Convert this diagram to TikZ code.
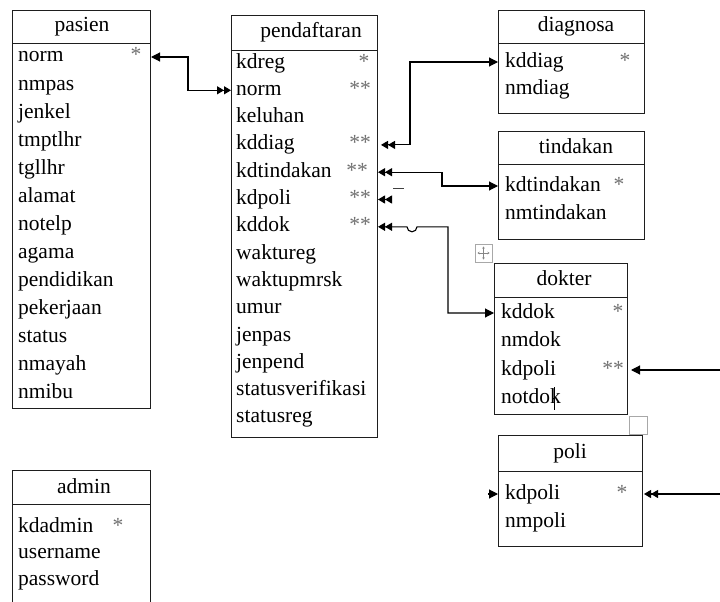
\documentclass[tikz,border=0pt]{standalone}
\usepackage{fontspec}
\setmainfont{Liberation Serif}
\usetikzlibrary{arrows.meta}
\definecolor{bord}{HTML}{1E1E1E}
\definecolor{keyc}{HTML}{707070}
\definecolor{handc}{HTML}{A8A8A8}
\begin{document}
\begin{tikzpicture}[x=1pt,y=-1pt,
  font=\fontsize{21.5}{25}\selectfont,
  tbl/.style={draw=bord, line width=1pt, inner sep=0pt, anchor=north west},
  fld/.style={anchor=west, inner sep=0pt, text height=15pt, text depth=5pt},
  ttl/.style={anchor=center, inner sep=0pt, text height=15pt, text depth=5pt},
  keyf/.style={anchor=center, inner sep=0pt, text height=15pt, text depth=5pt, text=keyc},
  conn/.style={line width=1.1pt, black},
  tipone/.tip={Triangle[length=9pt,width=9pt]},
  tiptwo/.tip={Triangle[length=7pt,width=8pt]Triangle[length=7pt,width=8pt]},
]
\useasboundingbox (0,0) rectangle (720,602);
\fill[white] (0,0) rectangle (720,602);

% ---------- pasien ----------
\node[tbl, minimum width=138pt, minimum height=33pt] (pasH) at (12,10) {};
\node[tbl, minimum width=138pt, minimum height=365pt] (pasB) at (12,43) {};
\node[ttl] (pasT) at (82,27) {pasien};
\foreach \t [count=\i from 0] in {norm,nmpas,jenkel,tmptlhr,tgllhr,alamat,notelp,agama,pendidikan,pekerjaan,status,nmayah,nmibu}
  \node[fld] (pas-\t) at (18,{57+28*\i}) {\t};
\node[keyf] (pasK1) at (136,57) {*};

% ---------- pendaftaran ----------
\node[tbl, minimum width=146pt, minimum height=35pt] (pdH) at (231,15) {};
\node[tbl, minimum width=146pt, minimum height=387pt] (pdB) at (231,50) {};
\node[ttl] (pdT) at (311,33) {pendaftaran};
\foreach \t [count=\i from 0] in {kdreg,norm,keluhan,kddiag,kdtindakan,kdpoli,kddok,waktureg,waktupmrsk,umur,jenpas,jenpend,statusverifikasi,statusreg}
  \node[fld] (pd-\t) at (236,{63+27.3*\i}) {\t};
\node[keyf] (pdK1) at (364,63) {*};
\node[keyf] (pdK2) at (360,90.3) {**};
\node[keyf] (pdK3) at (360,144.9) {**};
\node[keyf] (pdK4) at (357,172.2) {**};
\node[keyf] (pdK5) at (360,199.5) {**};
\node[keyf] (pdK6) at (360,226.8) {**};

% ---------- diagnosa ----------
\node[tbl, minimum width=146pt, minimum height=33pt] (dgH) at (498,10) {};
\node[tbl, minimum width=146pt, minimum height=70pt] (dgB) at (498,43) {};
\node[ttl] (dgT) at (576,27) {diagnosa};
\node[fld] (dg-kddiag) at (505,62) {kddiag};
\node[fld] (dg-nmdiag) at (505,90) {nmdiag};
\node[keyf] (dgK) at (625,62) {*};

% ---------- tindakan ----------
\node[tbl, minimum width=146pt, minimum height=33pt] (tdH) at (498,131) {};
\node[tbl, minimum width=146pt, minimum height=75pt] (tdB) at (498,164) {};
\node[ttl] (tdT) at (576,148) {tindakan};
\node[fld] (td-kdtindakan) at (505,186) {kdtindakan};
\node[fld] (td-nmtindakan) at (505,214) {nmtindakan};
\node[keyf] (tdK) at (619,186) {*};

% ---------- dokter ----------
\node[tbl, minimum width=133pt, minimum height=34pt] (dkH) at (494,263) {};
\node[tbl, minimum width=133pt, minimum height=117pt] (dkB) at (494,297) {};
\node[ttl] (dkT) at (564,280) {dokter};
\foreach \t [count=\i from 0] in {kddok,nmdok,kdpoli,notdok}
  \node[fld] (dk-\t) at (501,{313+28.5*\i}) {\t};
\node[keyf] (dkK1) at (618,313) {*};
\node[keyf] (dkK2) at (613,370) {**};

% ---------- poli ----------
\node[tbl, minimum width=144pt, minimum height=36pt] (poH) at (498,435) {};
\node[tbl, minimum width=144pt, minimum height=75pt] (poB) at (498,471) {};
\node[ttl] (poT) at (570,453) {poli};
\node[fld] (po-kdpoli) at (505,494) {kdpoli};
\node[fld] (po-nmpoli) at (505,522) {nmpoli};
\node[keyf] (poK) at (622,494) {*};

% ---------- admin ----------
\node[tbl, minimum width=138pt, minimum height=34pt] (adH) at (12,470) {};
\node[tbl, minimum width=138pt, minimum height=120pt] (adB) at (12,504) {};
\node[ttl] (adT) at (84,488) {admin};
\node[fld] (ad-kdadmin) at (18,527) {kdadmin};
\node[fld] (ad-username) at (18,553) {username};
\node[fld] (ad-password) at (18,580) {password};
\node[keyf] (adK) at (118,527) {*};

% ---------- connectors ----------
\coordinate (j1) at (188,0);
\coordinate (j2) at (410,0);
\coordinate (j3) at (442,0);
\coordinate (j5) at (448,0);
\coordinate (h1) at (407,0);
\coordinate (kp) at (391,0);
\coordinate (eA) at (720,0);
\coordinate (pl) at (488,0);

\draw[conn, {tipone}-{tiptwo}] (pasB.east |- pas-norm) -- (j1 |- pas-norm) -- (j1 |- pd-norm) -- (pdB.west |- pd-norm);
\draw[conn, {tiptwo}-{tipone}, shorten <=3pt] (pdB.east |- pd-kddiag) -- (j2 |- pd-kddiag) -- (j2 |- dg-kddiag) -- (dgB.west |- dg-kddiag);
\draw[conn, {tiptwo}-{tipone}] (pdB.east |- pd-kdtindakan) -- (j3 |- pd-kdtindakan) -- (j3 |- td-kdtindakan) -- (tdB.west |- td-kdtindakan);
\draw[conn, -{tiptwo}] (kp |- pd-kdpoli) -- (pdB.east |- pd-kdpoli);
\draw[conn, {tiptwo}-{tipone}] (pdB.east |- pd-kddok) -- (h1 |- pd-kddok) arc[start angle=180, end angle=360, radius=5pt] -- (j5 |- pd-kddok) -- (j5 |- dk-kddok) -- (dkB.west |- dk-kddok);
\draw[conn, -{tipone}, shorten >=3pt] (eA |- dk-kdpoli) -- (dkB.east |- dk-kdpoli);
\draw[conn, -{tiptwo}, shorten >=1pt] (eA |- po-kdpoli) -- (poB.east |- po-kdpoli);
\draw[conn, -{tipone}] (pl |- po-kdpoli) -- (poB.west |- po-kdpoli);

% ---------- editor marks ----------
\draw[line width=0.9pt, black!75] (393,188) -- (404,188);
\draw[handc, line width=0.8pt] (475,244) rectangle (492,262);
\draw[handc!80!black, line width=0.6pt, {Stealth[length=2pt,width=2.5pt]}-{Stealth[length=2pt,width=2.5pt]}] (483.5,246.5) -- (483.5,259.5);
\draw[handc!80!black, line width=0.6pt, {Stealth[length=2pt,width=2.5pt]}-{Stealth[length=2pt,width=2.5pt]}] (477.5,253) -- (489.5,253);
\draw[handc, line width=0.9pt] (629,416) rectangle (647,434);
\draw[black, line width=0.8pt] (554,387) -- (554,410);
\end{tikzpicture}
\end{document}
